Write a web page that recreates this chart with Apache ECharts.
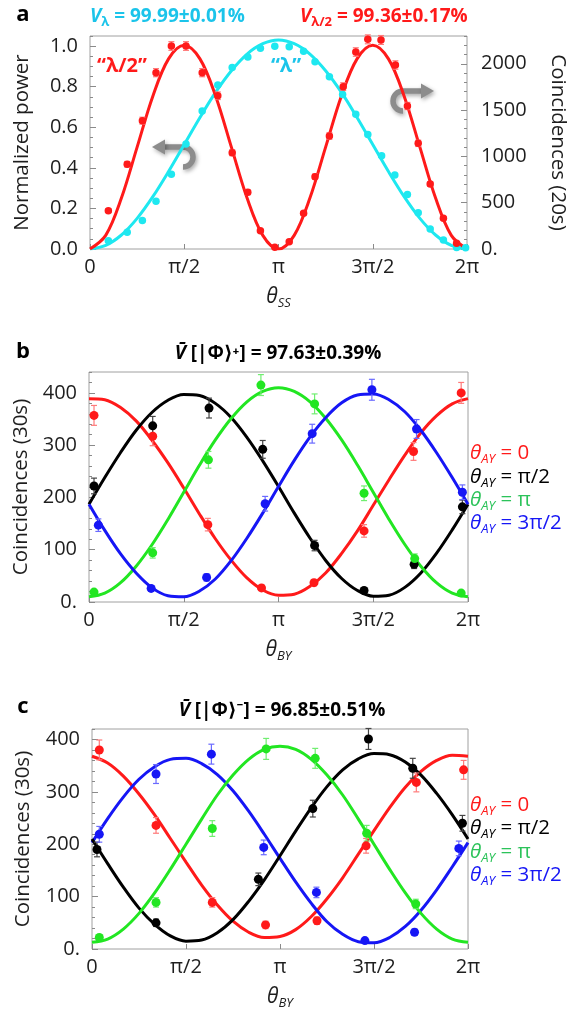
<!DOCTYPE html>
<html><head><meta charset="utf-8">
<script src="https://cdn.jsdelivr.net/npm/echarts@6/dist/echarts.min.js"></script>
<style>html,body{margin:0;padding:0;background:#fff}#c{width:576px;height:1013px}</style>
</head><body><div id="c"></div>
<script>
const PI = Math.PI;
const FONT = "'Open Sans', 'Noto Sans', 'DejaVu Sans', sans-serif";
const RED = '#ff1a1a', CYAN = '#1ee8f0', BLACK = '#000000', GREEN = '#22e622', BLUE = '#1616f5';
const RED_E = '#ff7a7a', CYAN_T = '#1bc4ea', BLACK_E = '#444444', GREEN_E = '#70ee70', BLUE_E = '#6a6aff', GREEN_T = '#2cc35a';

// tick labels
const xTickLabels = ['0', 'π/2', 'π', '3π/2', '2π'];
// fit curve sample angles (degrees)
const fitXDeg = [0,15,30,45,60,75,90,105,120,135,150,165,180,195,210,225,240,255,270,285,300,315,330,345,360];

// ---- panel a ----
const aX = [0.306,0.62,0.873,1.10,1.356,1.60,1.87,2.13,2.37,2.63,2.84,3.08,3.32,3.56,3.75,3.99,4.21,4.43,4.63,4.86,5.08,5.29,5.47,5.67,5.89,6.11,6.26];
const aCyan = [0.041,0.082,0.14,0.235,0.368,0.517,0.68,0.808,0.895,0.947,0.989,1.0,0.997,0.975,0.923,0.849,0.762,0.664,0.565,0.46,0.365,0.269,0.179,0.099,0.044,0.008,0.006];
const aRedX = [0.306,0.62,0.873,1.10,1.356,1.60,1.87,2.13,2.37,2.63,2.84,3.08,3.32,3.56,3.75,3.99,4.22,4.43,4.63,4.85,5.09,5.29,5.47,5.67,5.89,6.11];
const aRed = [414,915,1386,1904,2192,2192,1904,1655,1040,612,198,18,79,385,781,1220,1753,2127,2264,2257,1987,1544,1141,702,331,62];
const aRedErr = [20,30,37,44,47,47,44,41,32,25,14,4,9,20,28,35,42,46,48,48,45,39,34,26,18,8];
const aCyanFit = [0,0.018,0.069,0.151,0.258,0.382,0.515,0.648,0.773,0.879,0.961,1.012,1.03,1.012,0.961,0.879,0.773,0.648,0.515,0.382,0.258,0.151,0.069,0.018,0];
const aRedFit = [0,147,550,1100,1650,2053,2200,2053,1650,1100,550,147,0,147,550,1100,1650,2053,2200,2053,1650,1100,550,147,0];

// ---- panel b ----
const bRedX = [0.083,1.056,1.97,2.86,3.73,4.56,5.38,6.17];
const bRed = [357,317,148,27,37,136,288,400];
const bRedErr = [19,18,12,5,6,12,17,20];
const bBlackX = [0.083,1.056,1.99,2.88,3.74,4.56,5.39,6.19];
const bBlack = [222,337,371,292,108,22,72,182];
const bBlackErr = [15,18,19,17,10,5,8,13];
const bGreenX = [0.083,1.056,1.98,2.85,3.74,4.56,5.40,6.17];
const bGreen = [19,94,272,415,379,208,83,17];
const bGreenErr = [4,10,16,20,19,14,9,4];
const bBlueX = [0.155,1.03,1.95,2.92,3.70,4.69,5.43,6.19];
const bBlue = [147,26,47,188,322,406,331,210];
const bBlueErr = [12,5,7,14,18,20,18,14];
const bRedFit = [389,387,372,346,309,266,218,168,121,80,46,23,13,15,30,56,93,136,185,234,281,323,356,379,389];
const bBlackFit = [187,238,286,329,363,386,397,395,380,353,315,270,221,170,122,79,45,22,11,13,28,55,93,138,187];
const bGreenFit = [10,17,37,69,110,158,210,262,310,351,383,403,410,403,383,351,310,262,210,158,110,69,37,17,10];
const bBlueFit = [187,137,92,55,27,12,10,21,44,79,122,170,221,271,316,353,381,396,398,387,364,329,286,238,187];

// ---- panel c ----
const cRedX = [0.122,1.07,2.01,2.90,3.76,4.58,5.42,6.21];
const cRed = [380,236,89,46,54,197,318,342];
const cRedErr = [19,15,9,7,7,14,18,18];
const cBlackX = [0.083,1.07,2.78,3.69,4.62,5.36,6.19];
const cBlack = [190,50,133,268,401,345,240];
const cBlackErr = [14,7,12,16,20,19,15];
const cGreenX = [0.122,1.07,2.01,2.91,3.73,4.59,5.41];
const cGreen = [22,89,230,382,364,221,86];
const cGreenErr = [5,9,15,20,19,15,9];
const cBlueX = [0.122,1.07,1.995,2.87,3.75,4.56,5.39,6.13];
const cBlue = [219,334,372,194,108,16,32,192];
const cBlueErr = [15,18,19,14,10,4,6,14];
const cRedFit = [368,355,330,296,256,211,166,122,84,53,32,22,24,37,62,96,136,181,226,270,309,339,360,370,368];
const cBlueFit = [203,249,290,324,348,362,364,354,333,302,263,219,173,128,87,52,28,14,12,22,43,74,113,157,203];
const cBlackFit = [210,163,118,78,47,25,15,17,31,56,91,132,178,225,270,310,342,363,373,371,357,332,297,256,210];
const cGreenFit = [13,19,38,68,107,152,200,248,294,332,362,381,387,381,362,332,294,248,200,152,107,68,38,19,13];

// ---------- builders ----------
const TICK = '#8a8a8a', LABEL = '#1e1e1e';
const TL = 20;      // tick label size
const NM = 20.5;    // axis name size
const subRich = {
  t: {fontSize: 21, fontStyle: 'italic', fontFamily: FONT, lineHeight: 26},
  s: {fontSize: 13, fontStyle: 'italic', fontFamily: FONT, verticalAlign: 'bottom', lineHeight: 26}
};
function makeX(grid, sub) {
  return {
    type: 'value', gridIndex: grid, min: 0, max: 2 * PI, interval: PI / 2,
    axisLine: {show: false},
    axisTick: {show: true, inside: true, length: 5, lineStyle: {color: TICK}},
    axisLabel: {formatter: v => xTickLabels[Math.round(v / (PI / 2))], color: LABEL, fontSize: TL, fontFamily: FONT, margin: 8, showMaxLabel: true, showMinLabel: true},
    splitLine: {show: false},
    name: '{t|θ}{s|' + sub + '}', nameLocation: 'middle', nameGap: 35,
    nameTextStyle: {color: LABEL, rich: subRich}
  };
}
function makeY(grid, max, interval, fmt, name, opts) {
  return Object.assign({
    type: 'value', gridIndex: grid, min: 0, max: max, interval: interval,
    axisLine: {show: false},
    axisTick: {show: true, inside: true, length: 6, lineStyle: {color: TICK}},
    axisLabel: {formatter: fmt, color: LABEL, fontSize: TL, fontFamily: FONT, margin: 12, showMaxLabel: false},
    splitLine: {show: false},
    name: name, nameLocation: 'middle', nameGap: 56,
    nameTextStyle: {color: LABEL, fontSize: NM, fontFamily: FONT}
  }, opts || {});
}
function makeMinorY(grid, max, interval, pos) {
  return {
    type: 'value', gridIndex: grid, min: 0, max: max, interval: interval, position: pos,
    axisLine: {show: false},
    axisTick: {show: true, inside: true, length: 3, lineStyle: {color: TICK}},
    axisLabel: {show: false}, splitLine: {show: false}
  };
}
function fitSeries(xi, yi, vals, color) {
  return {type: 'line', xAxisIndex: xi, yAxisIndex: yi, data: fitXDeg.map((d, i) => [d * PI / 180, vals[i]]),
    smooth: 0.35, symbol: 'none', showSymbol: false, silent: true, z: 2,
    lineStyle: {color: color, width: 3}};
}
function errSeries(xi, yi, xs, ys, es, color) {
  return {type: 'custom', xAxisIndex: xi, yAxisIndex: yi, silent: true, z: 3,
    data: xs.map((x, i) => [x, ys[i], es[i]]),
    encode: {x: 0, y: 1},
    renderItem: function (params, api) {
      const x = api.value(0), y = api.value(1), e = api.value(2);
      const t = api.coord([x, y + e]), b = api.coord([x, y - e]);
      const w = 3, st = {stroke: color, lineWidth: 1.2};
      return {type: 'group', children: [
        {type: 'line', shape: {x1: t[0], y1: t[1], x2: b[0], y2: b[1]}, style: st},
        {type: 'line', shape: {x1: t[0] - w, y1: t[1], x2: t[0] + w, y2: t[1]}, style: st},
        {type: 'line', shape: {x1: b[0] - w, y1: b[1], x2: b[0] + w, y2: b[1]}, style: st}
      ]};
    }};
}
function ptSeries(xi, yi, xs, ys, color, size) {
  return {type: 'scatter', xAxisIndex: xi, yAxisIndex: yi, data: xs.map((x, i) => [x, ys[i]]),
    symbol: 'circle', symbolSize: size, silent: true, z: 4, itemStyle: {color: color, opacity: 1}};
}
function legendText(x, y, val, color) {
  return {type: 'text', x: x, y: y, style: {
    text: '{t|θ}{s|AY}{n| = ' + val + '}', fill: color, verticalAlign: 'middle', align: 'left',
    rich: {
      t: {fontSize: 20.5, fontStyle: 'italic', fontFamily: FONT, fill: color, lineHeight: 25},
      s: {fontSize: 13, fontStyle: 'italic', fontFamily: FONT, fill: color, verticalAlign: 'bottom', lineHeight: 25},
      n: {fontSize: 20.5, fontFamily: FONT, fill: color, lineHeight: 25}
    }}};
}
function titleV(x, y, sub, rest, color, align) {
  return {type: 'text', x: x, y: y, style: {
    text: '{v|V}{s|' + sub + '}{n| = ' + rest + '}', fill: color, verticalAlign: 'middle', align: align || 'left',
    rich: {
      v: {fontSize: 19, fontWeight: 'bold', fontStyle: 'italic', fontFamily: FONT, fill: color, lineHeight: 23},
      s: {fontSize: 13, fontWeight: 'bold', fontFamily: FONT, fill: color, verticalAlign: 'bottom', lineHeight: 23},
      n: {fontSize: 19, fontWeight: 'bold', fontFamily: FONT, fill: color, lineHeight: 23}
    }}};
}
function panelLetter(x, y, t) {
  return {type: 'text', x: x, y: y, style: {text: t, fontSize: 22, fontWeight: 'bold', fontFamily: FONT, fill: '#000', align: 'center', verticalAlign: 'middle'}};
}
function barTitle(x, y, rest) {
  return {type: 'text', x: x, y: y, style: {
    text: '{v|V\u0304}{n| [|\u03A6\u27E9' + rest + '}', fill: '#000', align: 'center', verticalAlign: 'middle',
    rich: {
      v: {fontSize: 19, fontWeight: 'bold', fontStyle: 'italic', fontFamily: FONT, fill: '#000'},
      n: {fontSize: 19, fontWeight: 'bold', fontFamily: FONT, fill: '#000'}
    }}};
}
const shadow = {shadowBlur: 4, shadowColor: 'rgba(0,0,0,0.35)', shadowOffsetX: 1.5, shadowOffsetY: 2};
function curlArrow(cx, cy, dir) {
  // dir = -1 : arrow points left (curl on right); dir = 1 : arrow points right (curl on left)
  const r = 10, top = cy - r;
  const lineEnd = cx + dir * 18, tip = cx + dir * 31;
  const st = Object.assign({stroke: '#8c8c8c', lineWidth: 5.5, fill: null}, shadow);
  return {type: 'group', children: [
    {type: 'arc', shape: {cx: cx, cy: cy, r: r, startAngle: -PI / 2, endAngle: PI / 2, clockwise: dir < 0}, style: st},
    {type: 'line', shape: {x1: cx, y1: top, x2: lineEnd, y2: top}, style: st},
    {type: 'polygon', shape: {points: [[tip, top], [lineEnd, top - 7.5], [lineEnd, top + 7.5]]}, style: Object.assign({fill: '#8c8c8c'}, shadow)}
  ]};
}

const chart = echarts.init(document.getElementById('c'), null, {renderer: 'canvas'});
const grids = [
  {left: 90, top: 36, width: 377, height: 213},
  {left: 89, top: 372, width: 379, height: 230},
  {left: 92, top: 729, width: 376, height: 220}
].map(g => Object.assign({show: true, borderColor: '#a0a0a0', borderWidth: 1, backgroundColor: 'transparent'}, g));

const option = {
  animation: false,
  backgroundColor: '#fff',
  textStyle: {fontFamily: FONT},
  grid: grids,
  xAxis: [makeX(0, 'SS'), makeX(1, 'BY'), makeX(2, 'BY')],
  yAxis: [
    makeY(0, 1.05, 0.2, v => v.toFixed(1), 'Normalized power', {nameGap: 57}),
    makeY(0, 2300, 500, v => v === 0 ? '0.' : String(v), 'Coincidences (20s)', {position: 'right', nameRotate: -90, nameGap: 80, axisLabel: {formatter: v => v === 0 ? '0.' : String(v), color: LABEL, fontSize: TL, fontFamily: FONT, margin: 14, showMaxLabel: false}}),
    makeY(1, 440, 100, v => v === 0 ? '0.' : String(v), 'Coincidences (30s)', {nameGap: 56}),
    makeY(2, 420, 100, v => v === 0 ? '0.' : String(v), 'Coincidences (30s)', {nameGap: 58}),
    makeMinorY(0, 1.05, 0.05, 'left'),
    makeMinorY(0, 2300, 100, 'right'),
    makeMinorY(1, 440, 20, 'left'),
    makeMinorY(2, 420, 20, 'left')
  ],
  series: [
    // panel a
    fitSeries(0, 0, aCyanFit, CYAN),
    fitSeries(0, 1, aRedFit, RED),
    errSeries(0, 1, aRedX, aRed, aRedErr, RED_E),
    ptSeries(0, 0, aX, aCyan, CYAN, 7.5),
    ptSeries(0, 1, aRedX, aRed, RED, 7.5),
    // panel b
    fitSeries(1, 2, bRedFit, RED),
    fitSeries(1, 2, bBlackFit, BLACK),
    fitSeries(1, 2, bGreenFit, GREEN),
    fitSeries(1, 2, bBlueFit, BLUE),
    errSeries(1, 2, bRedX, bRed, bRedErr, RED_E),
    errSeries(1, 2, bBlackX, bBlack, bBlackErr, BLACK_E),
    errSeries(1, 2, bGreenX, bGreen, bGreenErr, GREEN_E),
    errSeries(1, 2, bBlueX, bBlue, bBlueErr, BLUE_E),
    ptSeries(1, 2, bRedX, bRed, RED, 9),
    ptSeries(1, 2, bBlackX, bBlack, BLACK, 9),
    ptSeries(1, 2, bGreenX, bGreen, GREEN, 9),
    ptSeries(1, 2, bBlueX, bBlue, BLUE, 9),
    // panel c
    fitSeries(2, 3, cRedFit, RED),
    fitSeries(2, 3, cBlueFit, BLUE),
    fitSeries(2, 3, cBlackFit, BLACK),
    fitSeries(2, 3, cGreenFit, GREEN),
    errSeries(2, 3, cRedX, cRed, cRedErr, RED_E),
    errSeries(2, 3, cBlackX, cBlack, cBlackErr, BLACK_E),
    errSeries(2, 3, cGreenX, cGreen, cGreenErr, GREEN_E),
    errSeries(2, 3, cBlueX, cBlue, cBlueErr, BLUE_E),
    ptSeries(2, 3, cRedX, cRed, RED, 9),
    ptSeries(2, 3, cBlackX, cBlack, BLACK, 9),
    ptSeries(2, 3, cGreenX, cGreen, GREEN, 9),
    ptSeries(2, 3, cBlueX, cBlue, BLUE, 9)
  ],
  graphic: [
    panelLetter(23, 15, 'a'),
    titleV(90, 17, 'λ', '99.99±0.01%', CYAN_T),
    titleV(300, 17, 'λ/2', '99.36±0.17%', RED),
    {type: 'text', x: 122, y: 66, style: {text: '\u201Cλ/2\u201D', fontSize: 20, fontWeight: 'bold', fontFamily: FONT, fill: RED, align: 'center', verticalAlign: 'middle'}},
    {type: 'text', x: 286, y: 66, style: {text: '\u201Cλ\u201D', fontSize: 20, fontWeight: 'bold', fontFamily: FONT, fill: CYAN_T, align: 'center', verticalAlign: 'middle'}},
    curlArrow(183, 157, -1),
    curlArrow(403, 101, 1),
    panelLetter(23, 352, 'b'),
    barTitle(278, 354, '\u207A] = 97.63±0.39%'),
    legendText(470, 453, '0', RED),
    legendText(470, 477, 'π/2', BLACK),
    legendText(470, 500, 'π', GREEN_T),
    legendText(470, 523, '3π/2', BLUE),
    panelLetter(23, 707, 'c'),
    barTitle(282, 711, '\u207B] = 96.85±0.51%'),
    legendText(470, 805, '0', RED),
    legendText(470, 828, 'π/2', BLACK),
    legendText(470, 852, 'π', GREEN_T),
    legendText(470, 875, '3π/2', BLUE)
  ]
};
chart.setOption(option);
</script>
</body></html>
